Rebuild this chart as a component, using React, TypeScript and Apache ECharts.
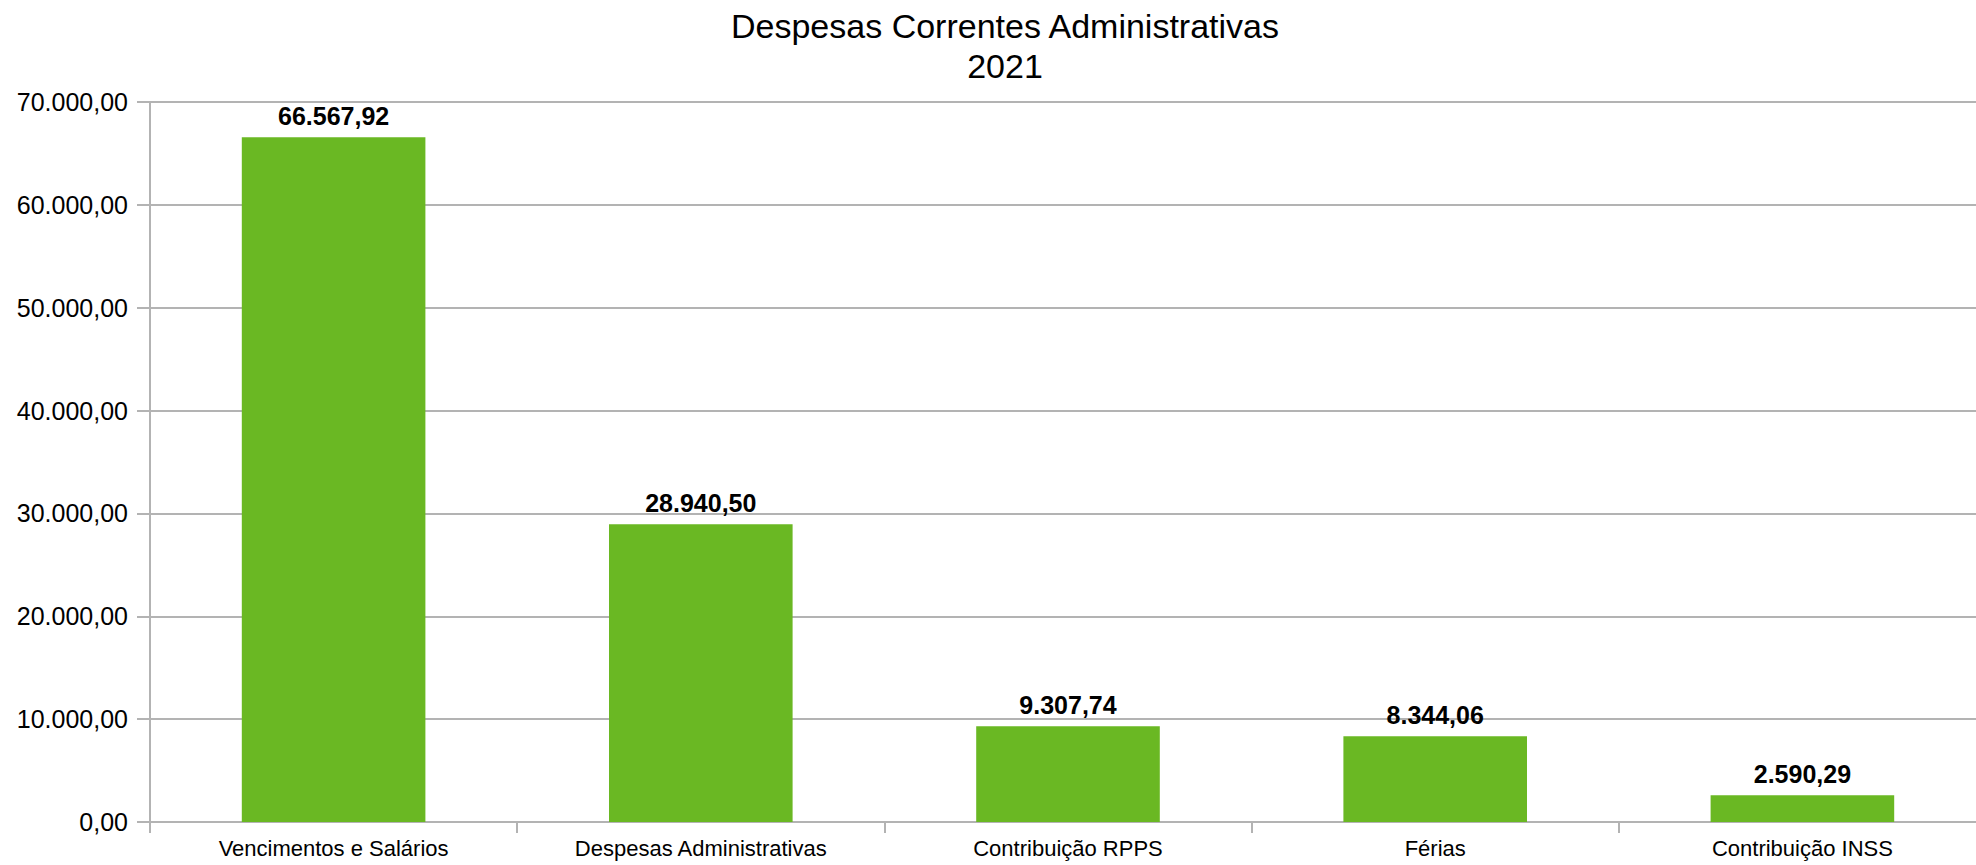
import React, { useEffect, useRef } from "react";
import * as echarts from "echarts";

const categories: string[] = [
  "Vencimentos e Salários",
  "Despesas Administrativas",
  "Contribuição RPPS",
  "Férias",
  "Contribuição INSS",
];
const values: number[] = [66567.92, 28940.5, 9307.74, 8344.06, 2590.29];
const titleLines: string[] = ["Despesas Correntes Administrativas", "2021"];
const yMin = 0;
const yMax = 70000;
const yInterval = 10000;

function fmtBR(v: number): string {
  const fixed = Math.abs(v).toFixed(2);
  const [intPart, dec] = fixed.split(".");
  const withDots = intPart.replace(/\B(?=(\d{3})+(?!\d))/g, ".");
  return (v < 0 ? "-" : "") + withDots + "," + dec;
}

const FONT = "'Liberation Sans', Arial, sans-serif";

export default function App() {
  const ref = useRef<HTMLDivElement>(null);
  useEffect(() => {
    if (!ref.current) return;
    const chart = echarts.init(ref.current, undefined, { renderer: "svg" });
    chart.setOption({
      animation: false,
      backgroundColor: "#ffffff",
      graphic: [
        {
          type: "text",
          x: 1005,
          y: 6,
          style: {
            text: titleLines.join("\n"),
            font: `34px ${FONT}`,
            fill: "#000000",
            align: "center",
            verticalAlign: "top",
            lineHeight: 40,
          },
        },
      ],
      grid: {
        left: 150,
        right: -10,
        top: 102,
        bottom: 43,
        containLabel: false,
        outerBoundsMode: "none",
      },
      xAxis: {
        type: "category",
        data: categories,
        axisLine: { show: true, lineStyle: { color: "#b3b3b3", width: 2 } },
        axisTick: { show: true, length: 11, lineStyle: { color: "#b3b3b3", width: 2 } },
        axisLabel: {
          color: "#000000",
          fontFamily: FONT,
          fontSize: 22,
          margin: 15,
          interval: 0,
        },
        splitLine: { show: false },
      },
      yAxis: {
        type: "value",
        min: yMin,
        max: yMax,
        interval: yInterval,
        axisLine: { show: true, lineStyle: { color: "#b3b3b3", width: 2 } },
        axisTick: { show: true, length: 13, lineStyle: { color: "#b3b3b3", width: 2 } },
        axisLabel: {
          color: "#000000",
          fontFamily: FONT,
          fontSize: 25,
          margin: 22,
          formatter: (v: number) => fmtBR(v),
        },
        splitLine: { show: true, lineStyle: { color: "#b3b3b3", width: 2 } },
      },
      series: [
        {
          type: "bar",
          data: values,
          barWidth: "50%",
          itemStyle: { color: "#6ab823" },
          label: {
            show: true,
            position: "top",
            distance: 9,
            color: "#000000",
            fontFamily: FONT,
            fontWeight: "bold",
            fontSize: 25,
            formatter: (p: any) => fmtBR(p.value as number),
          },
        },
      ],
    });
    return () => chart.dispose();
  }, []);
  return (
    <div
      ref={ref}
      style={{ position: "absolute", left: 0, top: 0, width: 1976, height: 865 }}
    />
  );
}
